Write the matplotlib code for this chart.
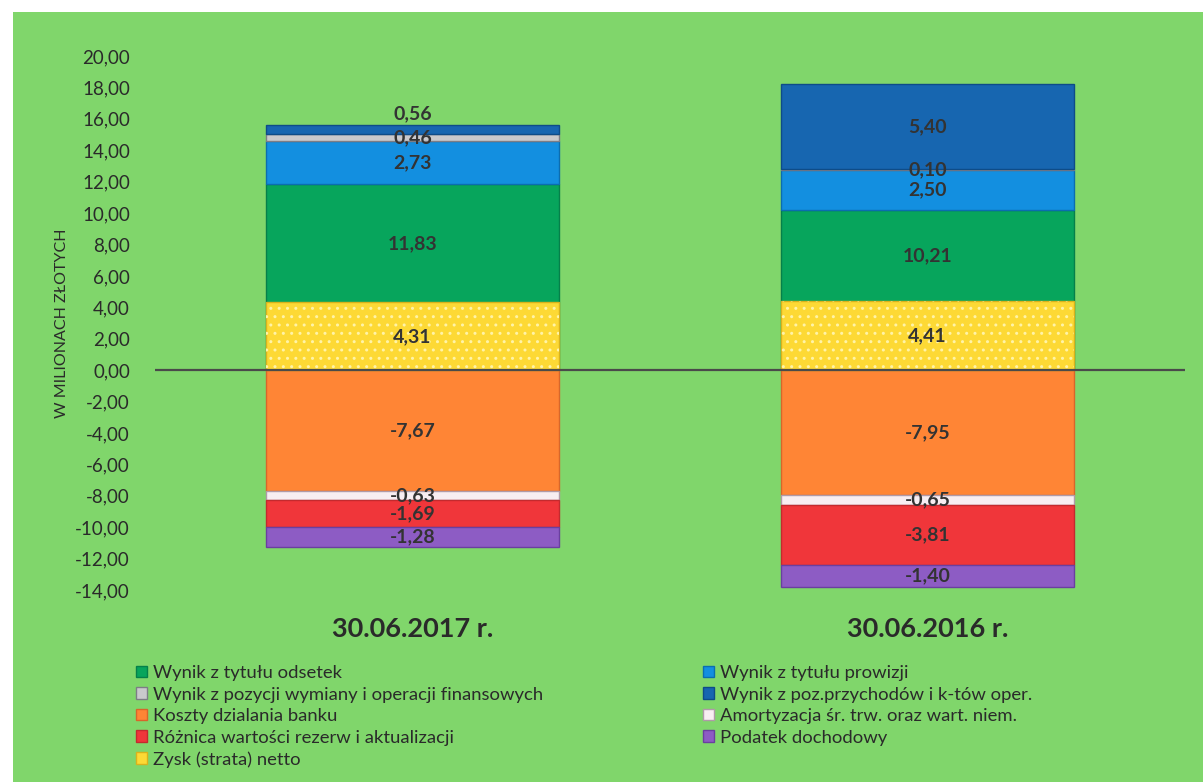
import matplotlib
matplotlib.use('Agg')
import matplotlib.pyplot as plt
from matplotlib.patches import Rectangle, Patch
import numpy as np

plt.rcParams['font.family'] = ['Lato', 'DejaVu Sans']

categories = ['30.06.2017 r.', '30.06.2016 r.']
odsetek = [11.83, 10.21]
prowizji = [2.73, 2.50]
wymiany = [0.46, 0.10]
przychody = [0.56, 5.40]
koszty = [-7.67, -7.95]
amortyzacja = [-0.63, -0.65]
rezerwy = [-1.69, -3.81]
podatek = [-1.28, -1.40]
zysk = [4.31, 4.41]

names = {
    'odsetek': 'Wynik z tytułu odsetek',
    'prowizji': 'Wynik z tytułu prowizji',
    'wymiany': 'Wynik z pozycji wymiany i operacji finansowych',
    'przychody': 'Wynik z poz.przychodów i k-tów oper.',
    'koszty': 'Koszty dzialania banku',
    'amortyzacja': 'Amortyzacja śr. trw. oraz wart. niem.',
    'rezerwy': 'Różnica wartości rezerw i aktualizacji',
    'podatek': 'Podatek dochodowy',
    'zysk': 'Zysk (strata) netto',
}
colors = {
    'odsetek': '#07a55c',
    'prowizji': '#138fe0',
    'wymiany': '#c9c9cc',
    'przychody': '#1766b0',
    'koszty': '#ff8535',
    'amortyzacja': '#f8eef2',
    'rezerwy': '#f0363a',
    'podatek': '#8d5cc4',
    'zysk': '#fdd935',
}
edges = {
    'odsetek': '#05804a',
    'prowizji': '#0b6db0',
    'wymiany': '#7d7d85',
    'przychody': '#0e4c88',
    'koszty': '#d8662a',
    'amortyzacja': '#b09aa8',
    'rezerwy': '#c42a2e',
    'podatek': '#6a3fa0',
    'zysk': '#d9b21c',
}

W, H = 1203, 782
fig = plt.figure(figsize=(W / 100, H / 100), dpi=100, facecolor='white')
fig.patches.append(Rectangle((13 / W, 0), 1, 1 - 12 / H, transform=fig.transFigure,
                             facecolor='#80d66b', edgecolor='none', zorder=-10))

ax = fig.add_axes([155 / W, 1 - 590 / H, 1030 / W, 534 / H])
ax.set_facecolor('none')
x = np.arange(len(categories))
bw = 0.567
lab_color = '#333333'
lab_size = 14


def fmt(v):
    return f'{v:.2f}'.replace('.', ',')


# positive stack
bottom = np.zeros(len(x))
pos = [('odsetek', odsetek), ('prowizji', prowizji), ('wymiany', wymiany), ('przychody', przychody)]
for i, (key, vals) in enumerate(pos):
    v = np.array(vals)
    ax.bar(x, v, bw, bottom=bottom, color=colors[key], edgecolor=edges[key], linewidth=1, zorder=2)
    for j in range(len(x)):
        if key == 'odsetek':
            # label sits in the visible part above the net profit bar
            ax.text(x[j], (zysk[j] + v[j]) / 2, fmt(v[j]), ha='center', va='center',
                    fontsize=lab_size, fontweight='bold', color=lab_color, zorder=5)
        elif i == len(pos) - 1 and v[j] < 1:
            ax.annotate(fmt(v[j]), (x[j], bottom[j] + v[j]),
                        xytext=(0, 2), textcoords='offset points', ha='center', va='bottom',
                        fontsize=lab_size, fontweight='bold', color=lab_color, zorder=5)
        else:
            ax.text(x[j], bottom[j] + v[j] / 2, fmt(v[j]), ha='center', va='center',
                    fontsize=lab_size, fontweight='bold', color=lab_color, zorder=5)
    bottom = bottom + v

# net profit overlaid from zero
ax.bar(x, zysk, bw, color=colors['zysk'], edgecolor=edges['zysk'], linewidth=1, zorder=3)
ax.bar(x, zysk, bw, fill=False, hatch='..', edgecolor='#fff3a8', linewidth=0, zorder=3)
for j in range(len(x)):
    ax.text(x[j], zysk[j] / 2, fmt(zysk[j]), ha='center', va='center',
            fontsize=lab_size, fontweight='bold', color=lab_color, zorder=5)

# negative stack
bottom = np.zeros(len(x))
neg = [('koszty', koszty), ('amortyzacja', amortyzacja), ('rezerwy', rezerwy), ('podatek', podatek)]
for key, vals in neg:
    v = np.array(vals)
    ax.bar(x, v, bw, bottom=bottom, color=colors[key], edgecolor=edges[key], linewidth=1, zorder=2)
    for j in range(len(x)):
        ax.text(x[j], bottom[j] + v[j] / 2, fmt(v[j]), ha='center', va='center',
                fontsize=lab_size, fontweight='bold', color=lab_color, zorder=5)
    bottom = bottom + v

ax.axhline(0, color='#4a4a4a', linewidth=1.6, zorder=4)

ax.set_xlim(-0.5, 1.5)
ax.set_ylim(-14, 20)
ticks = np.arange(-14, 21, 2)
ax.set_yticks(ticks)
ax.set_yticklabels([fmt(t) for t in ticks], fontsize=13.5, color='#2a2a2a')
ax.tick_params(axis='y', length=0, pad=18)
ax.set_xticks([])
for s in ax.spines.values():
    s.set_visible(False)

for j, c in enumerate(categories):
    ax.text(x[j], -16.5, c, ha='center', va='center', fontsize=19.5, fontweight='bold',
            color='#2a2a2a', clip_on=False)

fig.text(62 / W, 1 - 323 / H, 'W MILIONACH ZŁOTYCH', rotation=90, ha='center', va='center',
         fontsize=11.5, color='#2a2a2a')

left_keys = ['odsetek', 'wymiany', 'koszty', 'rezerwy', 'zysk']
right_keys = ['prowizji', 'przychody', 'amortyzacja', 'podatek']
for keys, xpos in [(left_keys, 136), (right_keys, 703)]:
    handles = [Patch(facecolor=colors[k], edgecolor=edges[k], label=names[k]) for k in keys]
    leg = fig.legend(handles=handles, loc='upper left', bbox_to_anchor=(xpos / W, 1 - 665 / H),
                     frameon=False, fontsize=13.3, handlelength=0.6, handleheight=0.6,
                     handletextpad=0.3, labelspacing=0.3, borderaxespad=0, borderpad=0)
    for t in leg.get_texts():
        t.set_color('#2a2a2a')

fig.savefig('out.png', dpi=100, facecolor=fig.get_facecolor())
